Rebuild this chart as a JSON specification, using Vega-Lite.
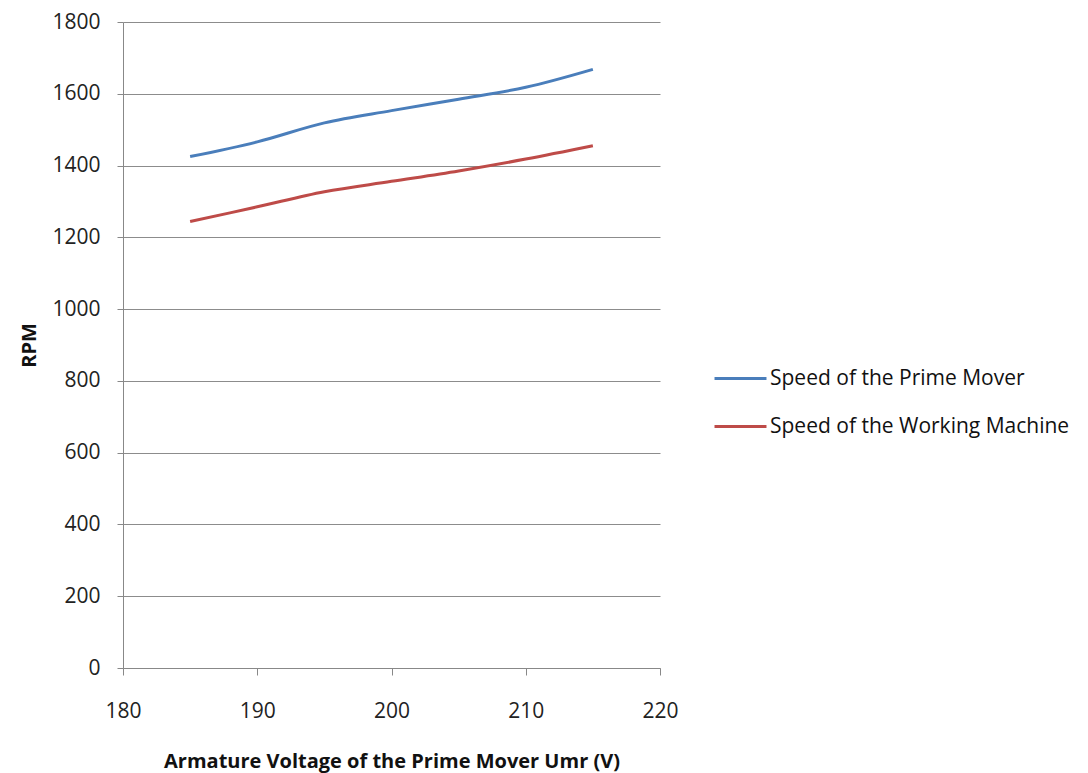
{
  "$schema": "https://vega.github.io/schema/vega-lite/v6.json",
  "width": 537,
  "height": 646,
  "autosize": {"type": "none"},
  "padding": {"left": 123, "top": 22, "right": 428, "bottom": 105},
  "background": "white",
  "config": {
    "view": {"stroke": null},
    "font": "Open Sans",
    "axis": {
      "labelFont": "Open Sans",
      "titleFont": "Open Sans",
      "labelColor": "#222222",
      "titleColor": "#111111",
      "domainColor": "#888888",
      "tickColor": "#888888",
      "gridColor": "#8c8c8c",
      "labelFontSize": 21,
      "titleFontSize": 20,
      "titleFontWeight": "bold",
      "labelFlush": false
    },
    "legend": {"labelFont": "Open Sans", "labelFontSize": 21, "labelColor": "#111111", "labelLimit": 400}
  },
  "data": {
    "values": [
      {"voltage": 185, "rpm": 1425, "series": "Speed of the Prime Mover"},
      {"voltage": 190, "rpm": 1466, "series": "Speed of the Prime Mover"},
      {"voltage": 195, "rpm": 1519, "series": "Speed of the Prime Mover"},
      {"voltage": 200, "rpm": 1553, "series": "Speed of the Prime Mover"},
      {"voltage": 205, "rpm": 1585, "series": "Speed of the Prime Mover"},
      {"voltage": 210, "rpm": 1618, "series": "Speed of the Prime Mover"},
      {"voltage": 215, "rpm": 1668, "series": "Speed of the Prime Mover"},
      {"voltage": 185, "rpm": 1244, "series": "Speed of the Working Machine"},
      {"voltage": 190, "rpm": 1285, "series": "Speed of the Working Machine"},
      {"voltage": 195, "rpm": 1327, "series": "Speed of the Working Machine"},
      {"voltage": 200, "rpm": 1356, "series": "Speed of the Working Machine"},
      {"voltage": 205, "rpm": 1385, "series": "Speed of the Working Machine"},
      {"voltage": 210, "rpm": 1418, "series": "Speed of the Working Machine"},
      {"voltage": 215, "rpm": 1455, "series": "Speed of the Working Machine"}
    ]
  },
  "mark": {"type": "line", "strokeWidth": 3, "interpolate": "catmull-rom"},
  "encoding": {
    "x": {
      "field": "voltage",
      "type": "quantitative",
      "scale": {"domain": [180, 220], "nice": false, "zero": false},
      "axis": {
        "title": "Armature Voltage of the Prime Mover Umr  (V)",
        "values": [180, 190, 200, 210, 220],
        "format": "d",
        "grid": false,
        "tickSize": 7,
        "labelPadding": 25,
        "titlePadding": 30
      }
    },
    "y": {
      "field": "rpm",
      "type": "quantitative",
      "scale": {"domain": [0, 1800], "nice": false},
      "axis": {
        "title": "RPM",
        "values": [0, 200, 400, 600, 800, 1000, 1200, 1400, 1600, 1800],
        "format": "d",
        "tickSize": 6,
        "labelPadding": 17,
        "titlePadding": 12
      }
    },
    "color": {
      "field": "series",
      "type": "nominal",
      "scale": {
        "domain": ["Speed of the Prime Mover", "Speed of the Working Machine"],
        "range": ["#4a7ebb", "#be4b48"]
      },
      "legend": {
        "title": null,
        "orient": "none",
        "legendX": 590,
        "legendY": 329,
        "symbolType": "stroke",
        "symbolSize": 2700,
        "symbolStrokeWidth": 3,
        "rowPadding": 10,
        "labelOffset": 2
      }
    }
  }
}
